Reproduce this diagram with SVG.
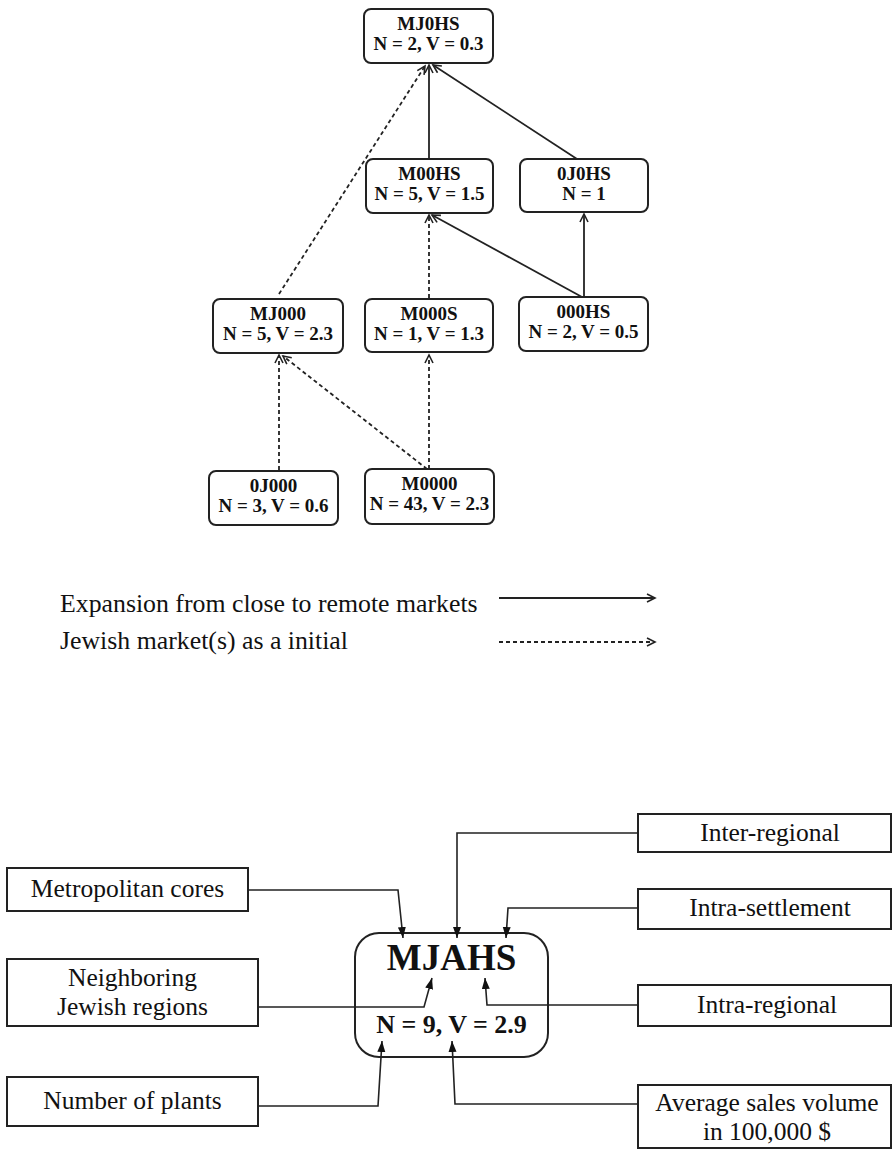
<svg xmlns="http://www.w3.org/2000/svg" width="893" height="1150" viewBox="0 0 893 1150">
<defs>
<style>
.nb{fill:#fff;stroke:#222;stroke-width:2}
.bx{fill:#fff;stroke:#222;stroke-width:2}
.nt{font-family:"Liberation Serif",serif;font-weight:bold;font-size:19px;fill:#111;text-anchor:middle}
.bt{font-family:"Liberation Serif",serif;font-size:25.5px;fill:#111;text-anchor:middle}
.lt{font-family:"Liberation Serif",serif;font-size:25.8px;fill:#111}
.s{fill:none;stroke:#222;stroke-width:1.8}
.d{fill:none;stroke:#222;stroke-width:1.8;stroke-dasharray:4 3}
.ta{fill:none;stroke:#222;stroke-width:1.6}
</style>
<marker id="v" markerUnits="userSpaceOnUse" markerWidth="12" markerHeight="12" refX="9" refY="5" orient="auto">
<path d="M1,1 L9,5 L1,9" fill="none" stroke="#222" stroke-width="1.6"/>
</marker>
<marker id="f" markerUnits="userSpaceOnUse" markerWidth="14" markerHeight="10" refX="11" refY="4" orient="auto">
<path d="M0,0 L11,4 L0,8 Z" fill="#111"/>
</marker>
</defs>
<rect width="893" height="1150" fill="#fff"/>

<g id="MJ0HS"><rect class="nb" x="364" y="9" width="129" height="54" rx="7"/><text class="nt" x="428.5" y="30">MJ0HS</text><text class="nt" x="428.5" y="50">N = 2, V = 0.3</text></g>
<g id="M00HS"><rect class="nb" x="366" y="159" width="127" height="54" rx="7"/><text class="nt" x="429.5" y="180">M00HS</text><text class="nt" x="429.5" y="200">N = 5, V = 1.5</text></g>
<g id="0J0HS"><rect class="nb" x="520" y="159" width="128" height="53" rx="7"/><text class="nt" x="584" y="180">0J0HS</text><text class="nt" x="584" y="200">N = 1</text></g>
<g id="MJ000"><rect class="nb" x="213" y="299" width="130" height="54" rx="7"/><text class="nt" x="278" y="320">MJ000</text><text class="nt" x="278" y="340">N = 5, V = 2.3</text></g>
<g id="M000S"><rect class="nb" x="365" y="299" width="128" height="53" rx="7"/><text class="nt" x="429" y="320">M000S</text><text class="nt" x="429" y="340">N = 1, V = 1.3</text></g>
<g id="000HS"><rect class="nb" x="519" y="297" width="129" height="54" rx="7"/><text class="nt" x="583.5" y="318">000HS</text><text class="nt" x="583.5" y="338">N = 2, V = 0.5</text></g>
<g id="0J000"><rect class="nb" x="209" y="471" width="129" height="54" rx="7"/><text class="nt" x="273.5" y="492">0J000</text><text class="nt" x="273.5" y="512">N = 3, V = 0.6</text></g>
<g id="M0000"><rect class="nb" x="365" y="469" width="129" height="55" rx="7"/><text class="nt" x="429.5" y="490">M0000</text><text class="nt" x="429.5" y="510">N = 43, V = 2.3</text></g>

<g id="legend">
<text class="lt" x="60" y="612">Expansion from close to remote markets</text>
<text class="lt" x="60" y="649">Jewish market(s) as a initial</text>
</g>

<g id="MJAHS"><rect class="bx" x="355" y="933" width="193" height="124" rx="24"/>
<text x="451.5" y="970" style="font-family:'Liberation Serif',serif;font-weight:bold;font-size:37px;fill:#111;text-anchor:middle">MJAHS</text>
<text x="451.5" y="1033" style="font-family:'Liberation Serif',serif;font-weight:bold;font-size:26px;fill:#111;text-anchor:middle">N = 9, V = 2.9</text></g>

<g id="metropolitan"><rect class="bx" x="7" y="868" width="241" height="43"/><text class="bt" x="127.5" y="897">Metropolitan cores</text></g>
<g id="neighboring"><rect class="bx" x="7" y="959" width="251" height="67"/><text class="bt" x="132.5" y="986">Neighboring</text><text class="bt" x="132.5" y="1015">Jewish regions</text></g>
<g id="plants"><rect class="bx" x="7" y="1077" width="251" height="49"/><text class="bt" x="132.5" y="1109">Number of plants</text></g>
<g id="inter"><rect class="bx" x="638" y="814" width="253" height="38"/><text class="bt" x="770" y="841">Inter-regional</text></g>
<g id="settlement"><rect class="bx" x="638" y="889" width="253" height="40"/><text class="bt" x="770" y="916">Intra-settlement</text></g>
<g id="intraregional"><rect class="bx" x="638" y="985" width="253" height="41"/><text class="bt" x="767" y="1013">Intra-regional</text></g>
<g id="sales"><rect class="bx" x="638" y="1085" width="253" height="63"/><text class="bt" x="767" y="1111">Average sales volume</text><text class="bt" x="767" y="1140">in 100,000 $</text></g>

<g id="connectors">
<line class="s" x1="429" y1="159" x2="429" y2="65" marker-end="url(#v)"/>
<line class="s" x1="577" y1="159" x2="433" y2="65" marker-end="url(#v)"/>
<line class="d" x1="279" y1="294" x2="425" y2="66" marker-end="url(#v)"/>
<line class="s" x1="584" y1="297" x2="584" y2="214" marker-end="url(#v)"/>
<line class="s" x1="582" y1="297" x2="432" y2="215" marker-end="url(#v)"/>
<line class="d" x1="429" y1="298" x2="429" y2="215" marker-end="url(#v)"/>
<line class="d" x1="279" y1="470" x2="279" y2="355" marker-end="url(#v)"/>
<line class="d" x1="427" y1="469" x2="283" y2="356" marker-end="url(#v)"/>
<line class="d" x1="429" y1="469" x2="429" y2="355" marker-end="url(#v)"/>

<line class="s" x1="499" y1="598" x2="655" y2="598" marker-end="url(#v)"/>
<line class="d" x1="499" y1="642" x2="655" y2="642" marker-end="url(#v)"/>

<polyline class="ta" points="248,890 398,890 403,938" marker-end="url(#f)"/>
<polyline class="ta" points="638,833 457,833 457,938" marker-end="url(#f)"/>
<polyline class="ta" points="638,908 508,908 506,938" marker-end="url(#f)"/>
<polyline class="ta" points="258,1007 424,1007 432,978" marker-end="url(#f)"/>
<polyline class="ta" points="638,1005 487,1005 485,978" marker-end="url(#f)"/>
<polyline class="ta" points="258,1106 378,1106 382,1041" marker-end="url(#f)"/>
<polyline class="ta" points="638,1104 455,1104 452,1041" marker-end="url(#f)"/>
</g>
</svg>
